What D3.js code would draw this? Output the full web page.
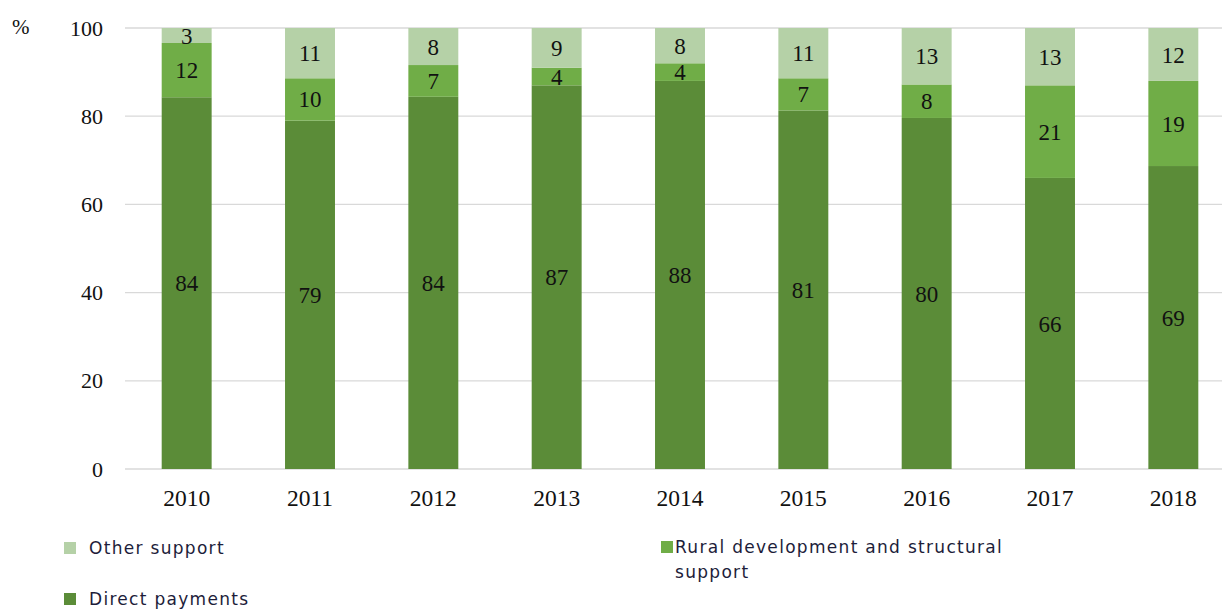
<!DOCTYPE html>
<html>
<head>
<meta charset="utf-8">
<script src="https://cdn.jsdelivr.net/npm/d3@7"></script>
<style>
  body { margin: 0; background: #fff; }
  svg { display: block; }
</style>
</head>
<body>
<div id="chart"></div>
<script>
// Chart data (shares in %, labels are rounded)
const years = ["2010", "2011", "2012", "2013", "2014", "2015", "2016", "2017", "2018"];
const directPayments = [84.3, 79.0, 84.4, 87.0, 88.0, 81.3, 79.6, 66.0, 68.7];
const ruralDevelopment = [12.3, 9.6, 7.2, 4.0, 4.0, 7.3, 7.6, 21.0, 19.3];
const otherSupport = [3.4, 11.4, 8.4, 9.0, 8.0, 11.4, 12.8, 13.0, 12.0];
const yTicks = [0, 20, 40, 60, 80, 100];

const seriesNames = ["Direct payments", "Rural development and structural support", "Other support"];
const colors = {
  "Direct payments": "#5b8c38",
  "Rural development and structural support": "#70ad47",
  "Other support": "#b5d1a7"
};

const W = 1222, H = 610;
const margin = {top: 28, left: 125, bottom: 141};
const plotRight = 1235;
const SERIF = "'Liberation Serif', 'Times New Roman', serif";

const svg = d3.select("#chart").append("svg")
  .attr("width", W).attr("height", H);

let rows = years.map((y, i) => ({
  year: y,
  "Direct payments": directPayments[i],
  "Rural development and structural support": ruralDevelopment[i],
  "Other support": otherSupport[i]
}));

const x = d3.scaleBand().domain(years)
  .range([margin.left, plotRight]).paddingInner(0.595).paddingOuter(0.2975);
const y = d3.scaleLinear().domain([0, 100]).range([H - margin.bottom, margin.top]);

// gridlines
svg.append("g").selectAll("line").data(yTicks).enter()
  .append("line")
    .attr("x1", margin.left).attr("x2", W)
    .attr("y1", d => y(d)).attr("y2", d => y(d))
    .style("stroke", "#d9d9d9").style("stroke-width", 1.3);

// y axis labels
const yAxis = d3.axisLeft(y).tickValues(yTicks).tickSize(0).tickPadding(22);
svg.append("g").attr("transform", `translate(${margin.left},0)`).call(yAxis)
  .call(g => g.select(".domain").remove())
  .selectAll("text")
    .attr("font-family", SERIF).attr("font-size", 22)
    .style("fill", "#111");

svg.append("text").text("%")
  .attr("x", 12).attr("y", y(100) + 6)
  .attr("font-family", SERIF).attr("font-size", 21)
  .style("fill", "#111");

// x axis labels
const xAxis = d3.axisBottom(x).tickSize(0).tickPadding(20);
svg.append("g").attr("transform", `translate(0,${y(0)})`).call(xAxis)
  .call(g => g.select(".domain").remove())
  .selectAll("text")
    .attr("font-family", SERIF).attr("font-size", 23.5)
    .style("fill", "#111");

// stacked bars
const stack = d3.stack().keys(seriesNames);
const layers = svg.append("g").selectAll("g.layer").data(stack(rows)).enter()
  .append("g").attr("class", "layer")
    .style("fill", d => colors[d.key]);

layers.selectAll("rect").data(d => d).enter()
  .append("rect")
    .attr("x", d => x(d.data.year))
    .attr("width", x.bandwidth())
    .attr("y", d => y(d[1]))
    .attr("height", d => y(d[0]) - y(d[1]));

layers.selectAll("text").data(d => d).enter()
  .append("text")
    .text(d => Math.round(d[1] - d[0]))
    .attr("x", d => x(d.data.year) + x.bandwidth() / 2)
    .attr("y", d => (y(d[0]) + y(d[1])) / 2)
    .attr("dy", "0.35em")
    .attr("text-anchor", "middle")
    .attr("font-family", SERIF).attr("font-size", 23)
    .style("fill", "#111");

// legend
const legendItems = [
  {key: "Other support", x: 64, y: 548, lines: ["Other support"]},
  {key: "Rural development and structural support", x: 661, y: 547,
    lines: ["Rural development and structural", "support"]},
  {key: "Direct payments", x: 64, y: 599, lines: ["Direct payments"]}
];

const legend = svg.append("g").selectAll("g").data(legendItems).enter()
  .append("g").attr("transform", d => `translate(${d.x},${d.y})`);

legend.append("rect")
  .attr("x", 0).attr("y", -6).attr("width", 12).attr("height", 12)
  .style("fill", d => colors[d.key]);

legend.append("text")
  .attr("font-family", "'DejaVu Sans', sans-serif").attr("font-size", 17)
  .attr("letter-spacing", 1.3)
  .style("fill", "#1d1d3a")
  .each(function(d) {
    d.lines.forEach((line, i) => {
      d3.select(this).append("tspan")
        .text(line)
        .attr("x", d.key === "Rural development and structural support" ? 14 : 25)
        .attr("y", i * 25)
        .attr("dy", "0.35em");
    });
  });
</script>
</body>
</html>
